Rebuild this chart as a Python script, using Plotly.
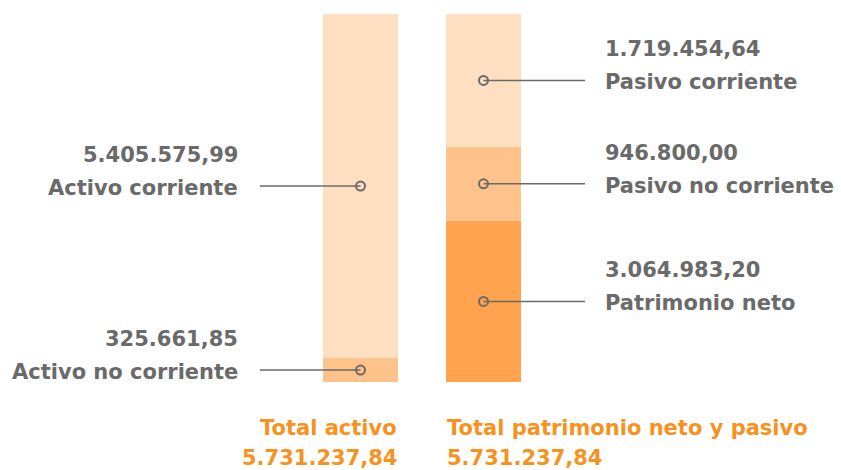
import plotly.graph_objects as go

# ---- data ----
bars = ["Total activo", "Total patrimonio neto y pasivo"]
total_label = "5.731.237,84"
left_names = ["Activo no corriente", "Activo corriente"]          # bottom -> top
left_values = ["325.661,85", "5.405.575,99"]
left_shares = [6.5, 93.5]                                         # % of bar height
right_names = ["Patrimonio neto", "Pasivo no corriente", "Pasivo corriente"]
right_values = ["3.064.983,20", "946.800,00", "1.719.454,64"]
right_shares = [43.8, 20.1, 36.1]

left_colors = ["#FEC28B", "#FFDFC2"]
right_colors = ["#FFA34E", "#FEC28B", "#FFDFC2"]

GREY = "#6a6a6a"
ORANGE = "#F7921E"
FONT = "DejaVu Sans"
FS = 21

W, H = 841, 470
PLOT_TOP, PLOT_BOTTOM = 14, 382
PX = 123.0           # pixels per x unit
X0 = 360.5           # pixel of bar 0 centre
def px2x(p):
    return (p - X0) / PX
def py2paper(p):
    return (PLOT_BOTTOM - p) / (PLOT_BOTTOM - PLOT_TOP)

fig = go.Figure()

def add_stack(xpos, names, shares, colors):
    base = 0
    mids = []
    for n, s, c in zip(names, shares, colors):
        fig.add_trace(go.Bar(x=[xpos], y=[s], base=[base], width=75 / PX,
                             marker=dict(color=c, line=dict(width=0)),
                             name=n, showlegend=False, hoverinfo="skip"))
        mids.append(base + s / 2)
        base += s
    return mids

lm = add_stack(0, left_names, left_shares, left_colors)
rm = add_stack(1, right_names, right_shares, right_colors)

annos = []
def callout(xbar, mid, name, value, side):
    if side == "left":
        xs = [px2x(260), xbar]
        ax, anc = 240 / W, "right"
    else:
        xs = [xbar, px2x(585)]
        ax, anc = 603 / W, "left"
    fig.add_trace(go.Scatter(x=xs, y=[mid, mid], mode="lines",
                             line=dict(color=GREY, width=1.5),
                             showlegend=False, hoverinfo="skip"))
    fig.add_trace(go.Scatter(x=[xbar], y=[mid], mode="markers",
                             marker=dict(symbol="circle-open", size=9, color=GREY,
                                         line=dict(color=GREY, width=2)),
                             showlegend=False, hoverinfo="skip"))
    fnt = dict(family=FONT, size=FS, color=GREY, weight="bold")
    annos.append(dict(x=ax, xref="paper", y=mid, yref="y", text=name,
                      xanchor=anc, yanchor="middle", yshift=-2,
                      showarrow=False, font=fnt))
    annos.append(dict(x=ax, xref="paper", y=mid, yref="y", text=value,
                      xanchor=anc, yanchor="middle", yshift=31,
                      showarrow=False, font=fnt))

for m, n, v in zip(lm, left_names, left_values):
    callout(0, m, n, v, "left")
for m, n, v in zip(rm, right_names, right_values):
    callout(1, m, n, v, "right")

tf = dict(family=FONT, size=FS, color=ORANGE, weight="bold")
for txt, py in ((bars[0], 428), (total_label, 458)):
    annos.append(dict(x=399 / W, xref="paper", y=py2paper(py), yref="paper",
                      text=txt, xanchor="right", yanchor="middle",
                      showarrow=False, font=tf))
for txt, py in ((bars[1], 428), (total_label, 458)):
    annos.append(dict(x=445 / W, xref="paper", y=py2paper(py), yref="paper",
                      text=txt, xanchor="left", yanchor="middle",
                      showarrow=False, font=tf))

fig.update_layout(
    width=W, height=H,
    margin=dict(l=0, r=0, t=PLOT_TOP, b=H - PLOT_BOTTOM),
    paper_bgcolor="white", plot_bgcolor="white",
    barmode="overlay",
    xaxis=dict(range=[px2x(0), px2x(W)], visible=False, fixedrange=True),
    yaxis=dict(range=[0, 100], visible=False, fixedrange=True),
    annotations=annos,
    showlegend=False,
)

fig.write_html("out.html", config={"displayModeBar": False},
               post_script="document.body.style.margin='0';document.body.style.overflow='hidden';")
